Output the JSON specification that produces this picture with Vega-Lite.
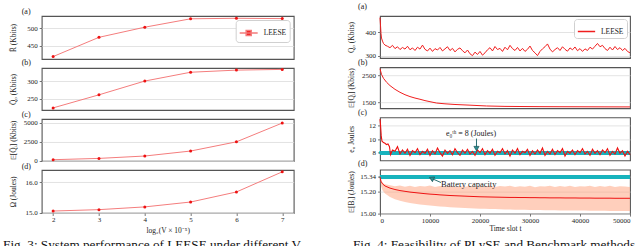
{
"$schema": "https://vega.github.io/schema/vega-lite/v6.json",
"background": "white",
"padding": {"left": 2.7, "top": 2, "right": 0, "bottom": 0},
"config": {
 "font": "Liberation Serif",
 "view": {"stroke": "#555", "strokeWidth": 1.1},
 "axis": {"labelFont": "Liberation Serif", "titleFont": "Liberation Serif", "labelFontSize": 7, "titleFontSize": 7.5, "titleFontWeight": "normal", "labelColor": "#222", "titleColor": "#222", "tickColor": "#555", "tickSize": 2.5, "tickWidth": 0.8, "domain": false, "gridColor": "#dcdcdc", "gridWidth": 0.8},
 "axisY": {"grid": true, "labelPadding": 2, "titleX": -24.5, "titleAngle": -90, "titleBaseline": "bottom"},
 "axisX": {"grid": false, "labelPadding": 0.5},
 "title": {"font": "Liberation Serif", "fontSize": 8, "fontWeight": "normal", "anchor": "start", "frame": "group", "baseline": "alphabetic", "color": "#222"},
 "legend": {"labelFont": "Liberation Serif", "labelFontSize": 7.5, "labelColor": "#222", "padding": 3, "cornerRadius": 3, "fillColor": "white", "strokeColor": "#d0d0d0", "orient": "top-right", "offset": 4, "labelOffset": 5}
},
"datasets": {
 "fig3": [{"x":2,"R":419,"Q0":224,"EQ":170,"Om":15.055},{"x":3,"R":474,"Q0":261,"EQ":340,"Om":15.1},{"x":4,"R":503,"Q0":300,"EQ":650,"Om":15.19},{"x":5,"R":527,"Q0":325,"EQ":1300,"Om":15.35},{"x":6,"R":528.5,"Q0":331,"EQ":2500,"Om":15.68},{"x":7,"R":527.5,"Q0":333,"EQ":4950,"Om":16.34}],
 "q0": [{"t":0,"v":462},{"t":100,"v":430},{"t":200,"v":395},{"t":300,"v":375},{"t":500,"v":362},{"t":700,"v":352},{"t":1000,"v":345},{"t":1500,"v":340},{"t":2000,"v":334},{"t":2500,"v":344},{"t":3000,"v":330},{"t":3500,"v":338},{"t":4000,"v":326},{"t":4500,"v":335},{"t":5000,"v":328},{"t":5500,"v":340},{"t":6000,"v":325},{"t":6500,"v":333},{"t":7000,"v":322},{"t":7500,"v":336},{"t":8000,"v":328},{"t":8500,"v":345},{"t":9000,"v":327},{"t":9500,"v":320},{"t":10000,"v":332},{"t":10500,"v":318},{"t":11000,"v":330},{"t":11500,"v":324},{"t":12000,"v":335},{"t":12500,"v":320},{"t":13000,"v":329},{"t":13500,"v":338},{"t":14000,"v":322},{"t":14500,"v":331},{"t":15000,"v":316},{"t":15500,"v":327},{"t":16000,"v":333},{"t":16500,"v":321},{"t":17000,"v":312},{"t":17500,"v":324},{"t":18000,"v":308},{"t":18500,"v":300},{"t":19000,"v":315},{"t":19500,"v":305},{"t":20000,"v":318},{"t":20500,"v":302},{"t":21000,"v":312},{"t":21500,"v":325},{"t":22000,"v":334},{"t":22500,"v":320},{"t":23000,"v":339},{"t":23500,"v":326},{"t":24000,"v":331},{"t":24500,"v":318},{"t":25000,"v":336},{"t":25500,"v":325},{"t":26000,"v":344},{"t":26500,"v":330},{"t":27000,"v":322},{"t":27500,"v":335},{"t":28000,"v":320},{"t":28500,"v":331},{"t":29000,"v":318},{"t":29500,"v":327},{"t":30000,"v":341},{"t":30500,"v":322},{"t":31000,"v":312},{"t":31500,"v":300},{"t":32000,"v":318},{"t":32500,"v":329},{"t":33000,"v":338},{"t":33500,"v":350},{"t":34000,"v":328},{"t":34500,"v":316},{"t":35000,"v":326},{"t":35500,"v":334},{"t":36000,"v":322},{"t":36500,"v":338},{"t":37000,"v":327},{"t":37500,"v":319},{"t":38000,"v":333},{"t":38500,"v":325},{"t":39000,"v":337},{"t":39500,"v":321},{"t":40000,"v":330},{"t":40500,"v":318},{"t":41000,"v":329},{"t":41500,"v":322},{"t":42000,"v":336},{"t":42500,"v":328},{"t":43000,"v":340},{"t":43500,"v":352},{"t":44000,"v":338},{"t":44500,"v":344},{"t":45000,"v":330},{"t":45500,"v":322},{"t":46000,"v":336},{"t":46500,"v":324},{"t":47000,"v":339},{"t":47500,"v":326},{"t":48000,"v":334},{"t":48500,"v":322},{"t":49000,"v":331},{"t":49500,"v":318},{"t":50000,"v":312}],
 "eq": [{"t":0,"v":2760},{"t":300,"v":2550},{"t":700,"v":2400},{"t":1333,"v":2250},{"t":2000,"v":2130},{"t":3000,"v":1990},{"t":4000,"v":1880},{"t":5000,"v":1790},{"t":6000,"v":1720},{"t":7000,"v":1665},{"t":8000,"v":1620},{"t":9000,"v":1570},{"t":10000,"v":1530},{"t":11300,"v":1480},{"t":13000,"v":1450},{"t":15000,"v":1425},{"t":18000,"v":1400},{"t":21300,"v":1370},{"t":25000,"v":1355},{"t":28000,"v":1350},{"t":32000,"v":1345},{"t":36000,"v":1342},{"t":40000,"v":1340},{"t":45000,"v":1337},{"t":50000,"v":1335}],
 "e0": [{"t":0,"v":13.0},{"t":100,"v":12.2},{"t":250,"v":10.5},{"t":400,"v":9.7},{"t":700,"v":9.5},{"t":1000,"v":9.4},{"t":1300,"v":9.2},{"t":1600,"v":9.3},{"t":1900,"v":8.9},{"t":2100,"v":7.7},{"t":2500,"v":8.4},{"t":3000,"v":8.2},{"t":3500,"v":8.9},{"t":4000,"v":7.8},{"t":4500,"v":8.4},{"t":5000,"v":7.9},{"t":5500,"v":8.5},{"t":6000,"v":7.6},{"t":6500,"v":8.3},{"t":7000,"v":8.0},{"t":7500,"v":8.6},{"t":8000,"v":7.7},{"t":8500,"v":8.2},{"t":9000,"v":7.9},{"t":9500,"v":8.5},{"t":10000,"v":7.6},{"t":10500,"v":8.3},{"t":11000,"v":7.8},{"t":11500,"v":8.7},{"t":12000,"v":8.0},{"t":12500,"v":7.5},{"t":13000,"v":8.4},{"t":13500,"v":7.9},{"t":14000,"v":8.3},{"t":14500,"v":7.7},{"t":15000,"v":8.6},{"t":15500,"v":8.0},{"t":16000,"v":7.6},{"t":16500,"v":8.4},{"t":17000,"v":7.9},{"t":17500,"v":8.5},{"t":18000,"v":7.8},{"t":18500,"v":8.2},{"t":19000,"v":7.6},{"t":19500,"v":8.4},{"t":20000,"v":8.0},{"t":20500,"v":8.6},{"t":21000,"v":7.7},{"t":21500,"v":8.3},{"t":22000,"v":7.9},{"t":22500,"v":8.5},{"t":23000,"v":7.6},{"t":23500,"v":8.2},{"t":24000,"v":8.0},{"t":24500,"v":8.6},{"t":25000,"v":7.8},{"t":25500,"v":8.3},{"t":26000,"v":7.5},{"t":26500,"v":8.4},{"t":27000,"v":7.9},{"t":27500,"v":8.6},{"t":28000,"v":7.7},{"t":28500,"v":8.2},{"t":29000,"v":8.0},{"t":29500,"v":8.5},{"t":30000,"v":7.6},{"t":30500,"v":8.3},{"t":31000,"v":7.8},{"t":31500,"v":8.4},{"t":32000,"v":7.9},{"t":32500,"v":8.7},{"t":33000,"v":7.6},{"t":33500,"v":8.2},{"t":34000,"v":7.8},{"t":34500,"v":8.5},{"t":35000,"v":7.7},{"t":35500,"v":8.3},{"t":36000,"v":8.0},{"t":36500,"v":8.6},{"t":37000,"v":7.5},{"t":37500,"v":8.2},{"t":38000,"v":7.9},{"t":38500,"v":8.4},{"t":39000,"v":7.7},{"t":39500,"v":8.3},{"t":40000,"v":8.0},{"t":40500,"v":8.6},{"t":41000,"v":7.8},{"t":41500,"v":8.2},{"t":42000,"v":7.6},{"t":42500,"v":8.5},{"t":43000,"v":7.9},{"t":43500,"v":8.3},{"t":44000,"v":7.7},{"t":44500,"v":8.4},{"t":45000,"v":8.0},{"t":45500,"v":8.6},{"t":46000,"v":7.6},{"t":46500,"v":8.2},{"t":47000,"v":7.8},{"t":47500,"v":8.7},{"t":48000,"v":7.9},{"t":48500,"v":8.3},{"t":49000,"v":7.5},{"t":49500,"v":8.2},{"t":50000,"v":7.7}],
 "bat": [{"t":0,"m":15.34,"lo":15.34,"hi":15.34},{"t":200,"m":15.3,"lo":15.255,"hi":15.3},{"t":500,"m":15.275,"lo":15.215,"hi":15.285},{"t":1000,"m":15.255,"lo":15.185,"hi":15.27},{"t":2000,"m":15.235,"lo":15.152,"hi":15.262},{"t":3000,"m":15.222,"lo":15.132,"hi":15.252},{"t":4000,"m":15.212,"lo":15.117,"hi":15.26},{"t":5000,"m":15.205,"lo":15.105,"hi":15.248},{"t":6000,"m":15.198,"lo":15.096,"hi":15.257},{"t":7000,"m":15.193,"lo":15.089,"hi":15.246},{"t":8000,"m":15.188,"lo":15.083,"hi":15.255},{"t":9000,"m":15.183,"lo":15.077,"hi":15.25},{"t":10000,"m":15.179,"lo":15.072,"hi":15.259},{"t":11000,"m":15.176,"lo":15.068,"hi":15.245},{"t":12000,"m":15.172,"lo":15.064,"hi":15.254},{"t":13000,"m":15.169,"lo":15.06,"hi":15.249},{"t":14000,"m":15.166,"lo":15.057,"hi":15.258},{"t":15000,"m":15.164,"lo":15.054,"hi":15.246},{"t":16000,"m":15.162,"lo":15.051,"hi":15.253},{"t":17000,"m":15.16,"lo":15.049,"hi":15.247},{"t":18000,"m":15.158,"lo":15.047,"hi":15.256},{"t":19000,"m":15.156,"lo":15.045,"hi":15.244},{"t":20000,"m":15.154,"lo":15.043,"hi":15.252},{"t":21000,"m":15.153,"lo":15.042,"hi":15.248},{"t":22000,"m":15.152,"lo":15.04,"hi":15.257},{"t":23000,"m":15.151,"lo":15.039,"hi":15.245},{"t":24000,"m":15.15,"lo":15.038,"hi":15.254},{"t":25000,"m":15.149,"lo":15.036,"hi":15.249},{"t":26000,"m":15.148,"lo":15.035,"hi":15.258},{"t":27000,"m":15.148,"lo":15.034,"hi":15.246},{"t":28000,"m":15.147,"lo":15.033,"hi":15.253},{"t":29000,"m":15.147,"lo":15.032,"hi":15.247},{"t":30000,"m":15.146,"lo":15.031,"hi":15.256},{"t":31000,"m":15.146,"lo":15.03,"hi":15.244},{"t":32000,"m":15.145,"lo":15.03,"hi":15.252},{"t":33000,"m":15.145,"lo":15.029,"hi":15.249},{"t":34000,"m":15.144,"lo":15.028,"hi":15.258},{"t":35000,"m":15.144,"lo":15.028,"hi":15.246},{"t":36000,"m":15.144,"lo":15.027,"hi":15.254},{"t":37000,"m":15.143,"lo":15.027,"hi":15.248},{"t":38000,"m":15.143,"lo":15.026,"hi":15.257},{"t":39000,"m":15.143,"lo":15.026,"hi":15.245},{"t":40000,"m":15.142,"lo":15.025,"hi":15.253},{"t":41000,"m":15.142,"lo":15.025,"hi":15.249},{"t":42000,"m":15.142,"lo":15.024,"hi":15.256},{"t":43000,"m":15.141,"lo":15.024,"hi":15.246},{"t":44000,"m":15.141,"lo":15.023,"hi":15.255},{"t":45000,"m":15.141,"lo":15.023,"hi":15.248},{"t":46000,"m":15.141,"lo":15.022,"hi":15.258},{"t":47000,"m":15.14,"lo":15.022,"hi":15.245},{"t":48000,"m":15.14,"lo":15.022,"hi":15.253},{"t":49000,"m":15.14,"lo":15.021,"hi":15.249},{"t":50000,"m":15.14,"lo":15.021,"hi":15.246}]
},
"spacing": 42.3,
"resolve": {"scale": {"color": "independent"}, "legend": {"color": "independent"}},
"hconcat": [
 {
  "spacing": 9,
  "bounds": "flush",
  "resolve": {"scale": {"color": "independent"}, "legend": {"color": "independent"}},
  "title": {"text": "Fig. 3: System performance of LEESE under different V.", "orient": "bottom", "anchor": "start", "frame": "group", "dx": -38.6, "offset": 3.5, "baseline": "top", "fontSize": 13.2, "color": "#111"},
  "vconcat": [
   {
    "width": 252, "height": 43,
    "title": {"text": "(a)", "dx": -20, "offset": 0},
    "data": {"name": "fig3"},
    "encoding": {
     "x": {"field": "x", "type": "quantitative", "scale": {"domain": [1.75, 7.25], "nice": false, "zero": false}, "axis": null},
     "y": {"field": "R", "type": "quantitative", "scale": {"domain": [412, 535], "nice": false, "zero": false}, "axis": {"values": [450, 500], "title": "R̄ (Kbits)"}}
    },
    "layer": [
     {"mark": {"type": "line", "strokeWidth": 1}, "encoding": {"color": {"datum": "LEESE", "scale": {"range": ["#f47c7c"]}, "legend": {"title": null, "symbolType": "M-1,0L1,0M-0.28,-0.28L0.28,-0.28L0.28,0.28L-0.28,0.28Z", "symbolSize": 324, "symbolStrokeWidth": 1.5, "symbolFillColor": "#ee1111", "symbolStrokeColor": "#f47c7c"}}}},
     {"mark": {"type": "point", "filled": true, "size": 9, "color": "#ee1111", "opacity": 1}}
    ]
   },
   {
    "width": 252, "height": 42,
    "title": {"text": "(b)", "dx": -20, "offset": 0},
    "data": {"name": "fig3"},
    "encoding": {
     "x": {"field": "x", "type": "quantitative", "scale": {"domain": [1.75, 7.25], "nice": false, "zero": false}, "axis": null},
     "y": {"field": "Q0", "type": "quantitative", "scale": {"domain": [218, 337], "nice": false, "zero": false}, "axis": {"values": [250, 300], "title": "Q̄₀ (Kbits)"}}
    },
    "layer": [
     {"mark": {"type": "line", "strokeWidth": 1, "color": "#f47c7c"}},
     {"mark": {"type": "point", "filled": true, "size": 9, "color": "#ee1111", "opacity": 1}}
    ]
   },
   {
    "width": 252, "height": 42,
    "title": {"text": "(c)", "dx": -20, "offset": 0},
    "data": {"name": "fig3"},
    "encoding": {
     "x": {"field": "x", "type": "quantitative", "scale": {"domain": [1.75, 7.25], "nice": false, "zero": false}, "axis": null},
     "y": {"field": "EQ", "type": "quantitative", "scale": {"domain": [0, 5480], "nice": false, "zero": false}, "axis": {"values": [0, 2500, 5000], "format": "d", "title": "𝔼[Q̄ᵢ] (Kbits)"}}
    },
    "layer": [
     {"mark": {"type": "line", "strokeWidth": 1, "color": "#f47c7c"}},
     {"mark": {"type": "point", "filled": true, "size": 9, "color": "#ee1111", "opacity": 1}}
    ]
   },
   {
    "width": 252, "height": 43,
    "title": {"text": "(d)", "dx": -20, "offset": -1.5},
    "data": {"name": "fig3"},
    "encoding": {
     "x": {"field": "x", "type": "quantitative", "scale": {"domain": [1.75, 7.25], "nice": false, "zero": false}, "axis": {"values": [2, 3, 4, 5, 6, 7], "title": "log₂(V × 10⁻⁵)", "titlePadding": 4}},
     "y": {"field": "Om", "type": "quantitative", "scale": {"domain": [14.99, 16.4], "nice": false, "zero": false}, "axis": {"values": [15, 16], "title": "Ω (Joules)"}}
    },
    "layer": [
     {"mark": {"type": "line", "strokeWidth": 1, "color": "#f47c7c"}},
     {"mark": {"type": "point", "filled": true, "size": 9, "color": "#ee1111", "opacity": 1}}
    ]
   }
  ]
 },
 {
  "spacing": 9.2,
  "bounds": "flush",
  "resolve": {"scale": {"color": "independent"}, "legend": {"color": "independent"}},
  "title": {"text": "Fig. 4: Feasibility of PLySE and Benchmark methods", "orient": "bottom", "anchor": "start", "frame": "group", "dx": -27, "offset": 6.5, "baseline": "top", "fontSize": 13.2, "color": "#111"},
  "vconcat": [
     {
      "width": 250, "height": 42,
      "title": {"text": "(a)", "dx": -22, "offset": 4.3},
      "data": {"name": "q0"},
      "mark": {"type": "line", "strokeWidth": 1},
      "encoding": {
       "x": {"field": "t", "type": "quantitative", "scale": {"domain": [0, 50000], "nice": false, "zero": false}, "axis": null},
       "y": {"field": "v", "type": "quantitative", "scale": {"domain": [290, 469], "nice": false, "zero": false}, "axis": {"values": [300, 400], "title": "Q₀ (Kbits)"}},
       "color": {"datum": "LEESE", "scale": {"range": ["#f01e1e"]}, "legend": {"title": null, "symbolType": "stroke", "symbolSize": 300, "symbolStrokeWidth": 1.5, "symbolStrokeColor": "#f59a9a", "offset": 3}}
      }
     },
     {
      "width": 250, "height": 41,
      "title": {"text": "(b)", "dx": -22, "offset": 0},
      "data": {"name": "eq"},
      "mark": {"type": "line", "strokeWidth": 1, "color": "#f01e1e"},
      "encoding": {
       "x": {"field": "t", "type": "quantitative", "scale": {"domain": [0, 50000], "nice": false, "zero": false}, "axis": null},
       "y": {"field": "v", "type": "quantitative", "scale": {"domain": [1287, 2815], "nice": false, "zero": false}, "axis": {"values": [1500, 2500], "format": "d", "title": "𝔼[Qᵢ] (Kbits)"}}
      }
     },
     {
      "width": 250, "height": 43,
      "title": {"text": "(c)", "dx": -22, "offset": 0},
      "layer": [
       {"data": {"name": "e0"}, "mark": {"type": "rule", "color": "#17b3bd", "strokeWidth": 3.5},
        "encoding": {"y": {"datum": 8, "type": "quantitative", "scale": {"domain": [6.85, 13.25], "nice": false, "zero": false}, "axis": {"values": [8, 10, 12], "title": "e₀ Joules"}}}},
       {"data": {"name": "e0"}, "mark": {"type": "line", "strokeWidth": 1.1, "color": "#ee1111"},
        "encoding": {
         "x": {"field": "t", "type": "quantitative", "scale": {"domain": [0, 50000], "nice": false, "zero": false}, "axis": null},
         "y": {"field": "v", "type": "quantitative", "scale": {"domain": [6.85, 13.25], "nice": false, "zero": false}, "axis": {"values": [8, 10, 12], "title": "e₀ Joules"}}}},
       {"data": {"values": [{"t": 18200, "v": 10.85, "label": "e₀ᵗʰ = 8 (Joules)"}]}, "mark": {"type": "text", "fontSize": 8, "font": "Liberation Serif", "color": "#222"},
        "encoding": {
         "x": {"field": "t", "type": "quantitative", "scale": {"domain": [0, 50000], "nice": false, "zero": false}, "axis": null},
         "y": {"field": "v", "type": "quantitative", "scale": {"domain": [6.85, 13.25], "nice": false, "zero": false}, "axis": {"values": [8, 10, 12], "title": "e₀ Joules"}},
         "text": {"field": "label"}}},
       {"data": {"values": [{"t": 19300, "v": 10.1, "t2": 19300, "v2": 8.7}]}, "mark": {"type": "rule", "color": "#2b6f73", "strokeWidth": 1},
        "encoding": {
         "x": {"field": "t", "type": "quantitative", "scale": {"domain": [0, 50000], "nice": false, "zero": false}, "axis": null},
         "y": {"field": "v", "type": "quantitative", "scale": {"domain": [6.85, 13.25], "nice": false, "zero": false}, "axis": {"values": [8, 10, 12], "title": "e₀ Joules"}},
         "x2": {"field": "t2"}, "y2": {"field": "v2"}}},
       {"data": {"values": [{"t": 19300, "v": 8.6}]}, "mark": {"type": "point", "shape": "triangle-down", "filled": true, "size": 28, "color": "#2b8d90", "stroke": "#1d4f52", "strokeWidth": 0.6, "opacity": 1},
        "encoding": {
         "x": {"field": "t", "type": "quantitative", "scale": {"domain": [0, 50000], "nice": false, "zero": false}, "axis": null},
         "y": {"field": "v", "type": "quantitative", "scale": {"domain": [6.85, 13.25], "nice": false, "zero": false}, "axis": {"values": [8, 10, 12], "title": "e₀ Joules"}}}}
      ]
     },
     {
      "width": 250, "height": 44,
      "title": {"text": "(d)", "dx": -22, "offset": 1.5},
      "layer": [
       {"data": {"name": "bat"}, "mark": {"type": "area", "color": "#ffa07a", "opacity": 0.5},
        "encoding": {
         "x": {"field": "t", "type": "quantitative", "scale": {"domain": [0, 50000], "nice": false, "zero": false}, "axis": {"values": [0, 10000, 20000, 30000, 40000, 50000], "format": "d", "title": "Time slot t", "titlePadding": 1}},
         "y": {"field": "lo", "type": "quantitative", "scale": {"domain": [14.997, 15.408], "nice": false, "zero": false}, "axis": {"values": [15.0, 15.2, 15.34], "format": ".2f", "title": "𝔼[Bᵢ] (Joules)"}},
         "y2": {"field": "hi"}}},
       {"data": {"name": "bat"}, "mark": {"type": "rule", "color": "#17b3bd", "strokeWidth": 3.5},
        "encoding": {"y": {"datum": 15.34, "type": "quantitative", "scale": {"domain": [14.997, 15.408], "nice": false, "zero": false}, "axis": {"values": [15.0, 15.2, 15.34], "format": ".2f", "title": "𝔼[Bᵢ] (Joules)"}}}},
       {"data": {"name": "bat"}, "mark": {"type": "line", "strokeWidth": 1, "color": "#ee1111"},
        "encoding": {
         "x": {"field": "t", "type": "quantitative", "scale": {"domain": [0, 50000], "nice": false, "zero": false}, "axis": {"values": [0, 10000, 20000, 30000, 40000, 50000], "format": "d", "title": "Time slot t", "titlePadding": 1}},
         "y": {"field": "m", "type": "quantitative", "scale": {"domain": [14.997, 15.408], "nice": false, "zero": false}, "axis": {"values": [15.0, 15.2, 15.34], "format": ".2f", "title": "𝔼[Bᵢ] (Joules)"}}}},
       {"data": {"values": [{"t": 17740, "m": 15.269, "label": "Battery capacity"}]}, "mark": {"type": "text", "fontSize": 8.5, "font": "Liberation Serif", "color": "#222"},
        "encoding": {
         "x": {"field": "t", "type": "quantitative", "scale": {"domain": [0, 50000], "nice": false, "zero": false}, "axis": {"values": [0, 10000, 20000, 30000, 40000, 50000], "format": "d", "title": "Time slot t", "titlePadding": 1}},
         "y": {"field": "m", "type": "quantitative", "scale": {"domain": [14.997, 15.408], "nice": false, "zero": false}, "axis": {"values": [15.0, 15.2, 15.34], "format": ".2f", "title": "𝔼[Bᵢ] (Joules)"}},
         "text": {"field": "label"}}},
       {"data": {"values": [{"t": 12200, "m": 15.287, "t2": 10500, "m2": 15.322}]}, "mark": {"type": "rule", "color": "#2b6f73", "strokeWidth": 1},
        "encoding": {
         "x": {"field": "t", "type": "quantitative", "scale": {"domain": [0, 50000], "nice": false, "zero": false}, "axis": {"values": [0, 10000, 20000, 30000, 40000, 50000], "format": "d", "title": "Time slot t", "titlePadding": 1}},
         "y": {"field": "m", "type": "quantitative", "scale": {"domain": [14.997, 15.408], "nice": false, "zero": false}, "axis": {"values": [15.0, 15.2, 15.34], "format": ".2f", "title": "𝔼[Bᵢ] (Joules)"}},
         "x2": {"field": "t2"}, "y2": {"field": "m2"}}},
       {"data": {"values": [{"t": 10300, "m": 15.326}]}, "mark": {"type": "point", "shape": "triangle-up", "angle": -65, "filled": true, "size": 28, "color": "#2b8d90", "stroke": "#1d4f52", "strokeWidth": 0.6, "opacity": 1},
        "encoding": {
         "x": {"field": "t", "type": "quantitative", "scale": {"domain": [0, 50000], "nice": false, "zero": false}, "axis": {"values": [0, 10000, 20000, 30000, 40000, 50000], "format": "d", "title": "Time slot t", "titlePadding": 1}},
         "y": {"field": "m", "type": "quantitative", "scale": {"domain": [14.997, 15.408], "nice": false, "zero": false}, "axis": {"values": [15.0, 15.2, 15.34], "format": ".2f", "title": "𝔼[Bᵢ] (Joules)"}}}}
      ]
     }
  ]
 }
]
}
